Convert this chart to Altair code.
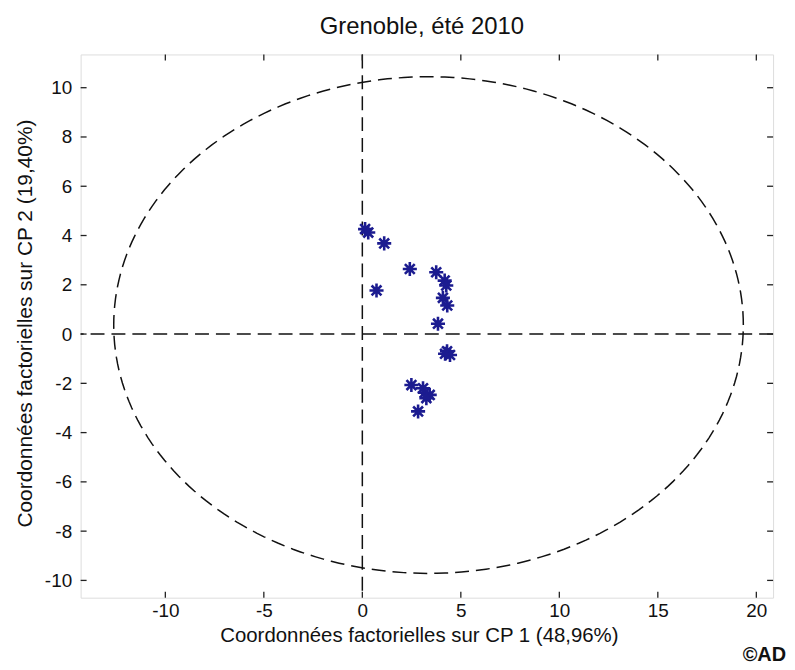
import altair as alt
import pandas as pd
import numpy as np

chart_title = "Grenoble, été 2010"
x_title = "Coordonnées factorielles sur CP 1 (48,96%)"
y_title = "Coordonnées factorielles sur CP 2 (19,40%)"
credit = "©AD"

pc1 = [0.14, 0.30, 1.11, 2.41, 0.72, 3.75, 4.18, 4.26, 4.09, 4.31, 3.84,
       4.30, 4.45, 4.20, 2.49, 3.08, 3.42, 3.17, 3.25, 2.83]
pc2 = [4.26, 4.12, 3.68, 2.64, 1.77, 2.51, 2.17, 1.97, 1.47, 1.16, 0.42,
       -0.70, -0.85, -0.80, -2.07, -2.20, -2.47, -2.38, -2.60, -3.14]

x_ticks = [-10, -5, 0, 5, 10, 15, 20]
y_ticks = [-10, -8, -6, -4, -2, 0, 2, 4, 6, 8, 10]
x_domain = [-14.3, 20.85]
y_domain = [-10.7, 11.35]

# confidence ellipse: centre and semi-axes
ell_center = [3.36, 0.365]
ell_semi = [15.98, 10.08]

W, H = 696, 546
FONT = "Liberation Sans"
TL = 6  # inward tick length (px)

t = np.linspace(0, 2 * np.pi, 241)
ell_df = pd.DataFrame({
    "x": ell_center[0] + ell_semi[0] * np.cos(t),
    "y": ell_center[1] + ell_semi[1] * np.sin(t),
    "i": np.arange(len(t)),
})
pts_df = pd.DataFrame({"x": pc1, "y": pc2})
xt_df = pd.DataFrame({"x": x_ticks})
yt_df = pd.DataFrame({"y": y_ticks})
one_df = pd.DataFrame({"x": [0.0], "y": [0.0]})
credit_df = pd.DataFrame({"t": [credit]})

xs = alt.Scale(domain=x_domain, nice=False, zero=False)
ys = alt.Scale(domain=y_domain, nice=False, zero=False)

x_axis = alt.Axis(values=x_ticks, domain=False, ticks=False, grid=False,
                  labelExpr="'' + datum.value",
                  labelFont=FONT, labelFontSize=19, labelColor="#111",
                  labelPadding=4, title=x_title, titleFont=FONT,
                  titleFontSize=20.5, titleFontWeight="normal",
                  titleColor="#111", titlePadding=5, titleX=340,
                  titleAnchor="start", titleAlign="center")
y_axis = alt.Axis(values=y_ticks, domain=False, ticks=False, grid=False,
                  labelExpr="'' + datum.value",
                  labelFont=FONT, labelFontSize=19, labelColor="#111",
                  labelPadding=9, title=y_title, titleFont=FONT,
                  titleFontSize=21, titleFontWeight="normal",
                  titleColor="#111", titlePadding=9, titleY=270,
                  titleAnchor="start", titleAlign="center")

dash = [14, 7]

ellipse = alt.Chart(ell_df).mark_line(
    color="#111", strokeWidth=1.5, strokeDash=dash, clip=True
).encode(
    x=alt.X("x:Q", scale=xs, axis=x_axis),
    y=alt.Y("y:Q", scale=ys, axis=y_axis),
    order="i:Q",
)

hline = alt.Chart(one_df).mark_rule(
    color="#111", strokeWidth=1.5, strokeDash=dash
).encode(y=alt.Y("y:Q"))

vline = alt.Chart(one_df).mark_rule(
    color="#111", strokeWidth=1.5, strokeDash=dash
).encode(x=alt.X("x:Q"))

star = "M-1,0L1,0M0,-1L0,1M-0.7,-0.7L0.7,0.7M-0.7,0.7L0.7,-0.7"
points = alt.Chart(pts_df).mark_point(
    shape=star, size=200, stroke="#1c1c90", strokeWidth=2.6, filled=False,
    opacity=1
).encode(x="x:Q", y="y:Q")

tick_style = dict(color="#222", strokeWidth=1.3)
bottom_t = alt.Chart(xt_df).mark_rule(**tick_style).encode(
    x="x:Q", y=alt.value(H), y2=alt.value(H - TL))
top_t = alt.Chart(xt_df).mark_rule(**tick_style).encode(
    x="x:Q", y=alt.value(0), y2=alt.value(TL))
left_t = alt.Chart(yt_df).mark_rule(**tick_style).encode(
    y="y:Q", x=alt.value(0), x2=alt.value(TL))
right_t = alt.Chart(yt_df).mark_rule(**tick_style).encode(
    y="y:Q", x=alt.value(W), x2=alt.value(W - TL))

credit_mark = alt.Chart(credit_df).mark_text(
    font=FONT, fontSize=20, fontWeight="bold", color="#111",
    align="right", baseline="alphabetic"
).encode(text="t:N", x=alt.value(W + 13), y=alt.value(H + 64))

title_mark = alt.Chart(credit_df).mark_text(
    font=FONT, fontSize=24, color="#111", align="center",
    baseline="alphabetic"
).encode(text=alt.value(chart_title), x=alt.value(343),
         y=alt.value(-21))

chart = alt.layer(
    ellipse, hline, vline, bottom_t, top_t, left_t, right_t, points,
    credit_mark, title_mark
).properties(
    width=W, height=H,
    autosize=alt.AutoSizeParams(type="none"),
    padding={"left": 73, "top": 45, "right": 14, "bottom": 66},
).configure_view(
    stroke="#222", strokeWidth=1.6
).configure(background="white")

chart.save("out.html", embed_options={"renderer": "svg", "actions": False})
